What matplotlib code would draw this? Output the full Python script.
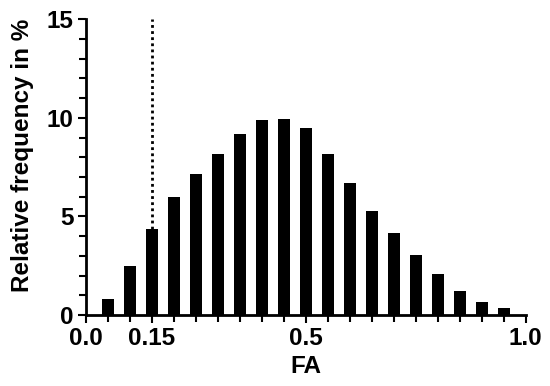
import matplotlib
matplotlib.use("Agg")
import matplotlib.pyplot as plt
import numpy as np
from matplotlib.ticker import MultipleLocator

plt.rcParams['font.family'] = ['Liberation Sans', 'DejaVu Sans']
plt.rcParams['font.weight'] = 'bold'

fa_bins = [0.05, 0.10, 0.15, 0.20, 0.25, 0.30, 0.35, 0.40, 0.45, 0.50,
           0.55, 0.60, 0.65, 0.70, 0.75, 0.80, 0.85, 0.90, 0.95]
rel_freq = [0.79, 2.50, 4.35, 5.99, 7.15, 8.15, 9.17, 9.88, 9.93, 9.49,
            8.15, 6.70, 5.26, 4.14, 3.03, 2.10, 1.20, 0.68, 0.37]
xtick_vals = [0.0, 0.15, 0.5, 1.0]
xtick_labels = ["0.0", "0.15", "0.5", "1.0"]
ytick_vals = [0, 5, 10, 15]
threshold = 0.15

fig = plt.figure(figsize=(5.5, 3.86), dpi=100)
ax = fig.add_axes([0.156, 0.184, 0.800, 0.766])

ax.bar(fa_bins, rel_freq, width=0.027, color='black', zorder=3)

thr_h = rel_freq[fa_bins.index(threshold)]
ax.plot([threshold, threshold], [thr_h, 15], color='black', linestyle=(0, (1, 1.2)),
        linewidth=2, zorder=2)

ax.set_xlim(0, 1.0)
ax.set_ylim(0, 15)
for s in ['top', 'right']:
    ax.spines[s].set_visible(False)
for s in ['left', 'bottom']:
    ax.spines[s].set_linewidth(2)

ax.set_xticks(xtick_vals)
ax.set_xticklabels(xtick_labels)
ax.xaxis.set_minor_locator(MultipleLocator(0.05))
ax.set_yticks(ytick_vals)
ax.yaxis.set_minor_locator(MultipleLocator(1))
ax.tick_params(which='both', direction='out', width=1.5, length=6, labelsize=17.5, pad=3)
ax.tick_params(which='minor', length=5)

ax.set_xlabel('FA', fontsize=17.5, fontweight='bold', labelpad=3)
ax.set_ylabel('Relative frequency in %', fontsize=17.5, fontweight='bold', labelpad=6)
ax.yaxis.set_label_coords(-0.118, 0.54)

fig.savefig('out.png', dpi=100)
